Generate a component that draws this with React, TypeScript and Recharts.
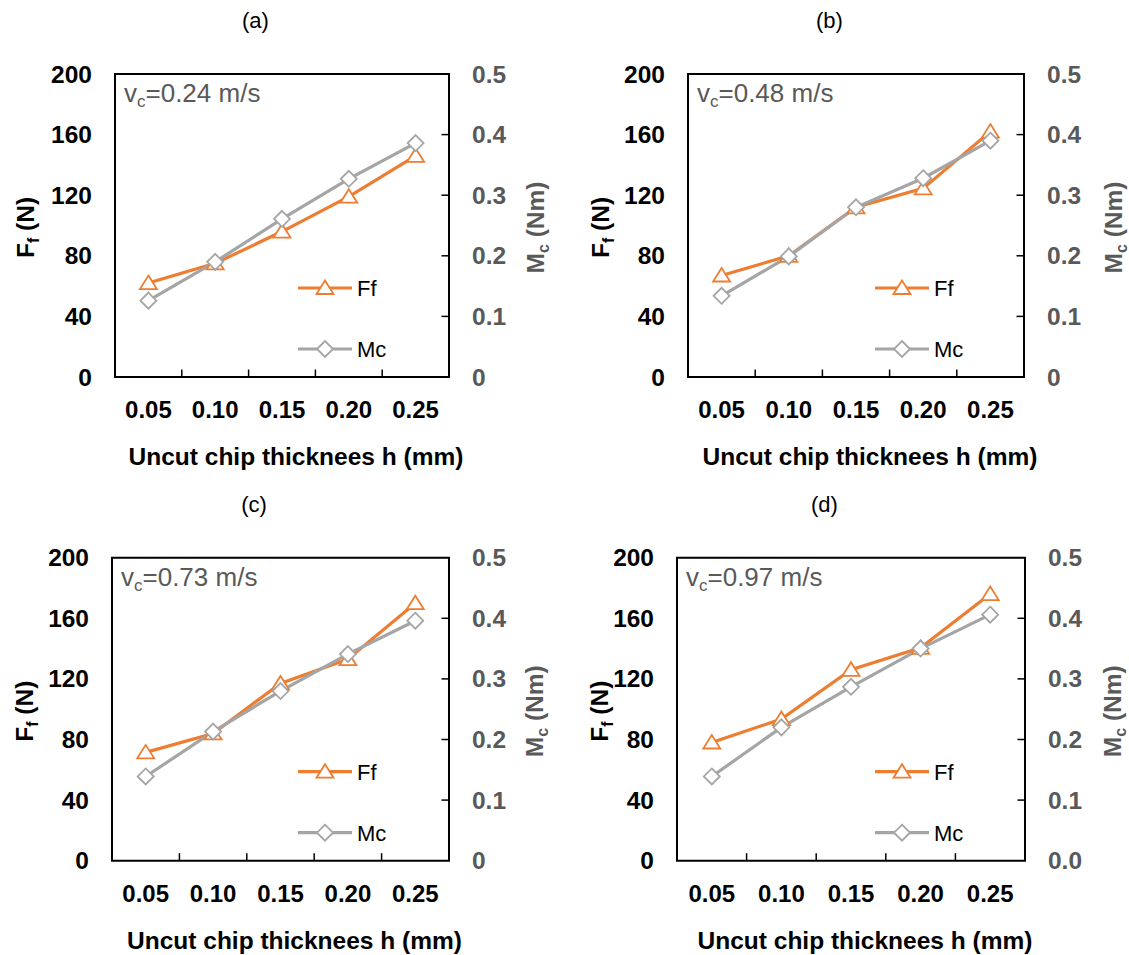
import React from 'react';
import { LineChart, Line, XAxis, YAxis, ReferenceArea, ReferenceLine } from 'recharts';

// uncut chip thickness categories (mm)
const thickness = ['0.05', '0.10', '0.15', '0.20', '0.25'];

// friction force Ff (N) and cutting moment Mc (Nm) per cutting speed
const ffA = [62, 75, 96, 119, 146];
const mcA = [0.126, 0.19, 0.261, 0.327, 0.386];
const ffB = [67, 80, 112, 124.5, 162];
const mcB = [0.134, 0.199, 0.28, 0.328, 0.39];
const ffC = [71.5, 84, 117, 133, 170];
const mcC = [0.139, 0.213, 0.28, 0.341, 0.396];
const ffD = [78, 93.5, 126, 140.5, 176];
const mcD = [0.139, 0.22, 0.287, 0.35, 0.406];

const ffTicks = [0, 40, 80, 120, 160, 200];
const mcTicks = [0, 0.1, 0.2, 0.3, 0.4, 0.5];
const boundaryTicks = [1.5, 2.5, 3.5, 4.5];
const innerTicks = [40, 80, 120, 160];

const FONT = '"Liberation Sans", Arial, sans-serif';
const ORANGE = '#ED7D31';
const GRAY = '#A5A5A5';
const DARK = '#595959';

const panels = [
  { name: '(a)', speed: '0.24', ff: ffA, mc: mcA, left: 0, top: 0, plotX: 115, plotY: 74, plotW: 334, yLabelX: 25, mLabelX: 535, legendX: 298, zero: '0' },
  { name: '(b)', speed: '0.48', ff: ffB, mc: mcB, left: 560, top: 0, plotX: 688, plotY: 74, plotW: 336, yLabelX: 600, mLabelX: 1113, legendX: 875, zero: '0' },
  { name: '(c)', speed: '0.73', ff: ffC, mc: mcC, left: 0, top: 480, plotX: 112, plotY: 557.7, plotW: 337, yLabelX: 25, mLabelX: 535, legendX: 298, zero: '0' },
  { name: '(d)', speed: '0.97', ff: ffD, mc: mcD, left: 560, top: 480, plotX: 677, plotY: 557.7, plotW: 348, yLabelX: 600, mLabelX: 1113, legendX: 875, zero: '0.0' },
];
const PLOT_H = 303;

const triangle = (cx: number, cy: number) =>
  `M${cx},${cy - 7.5} L${cx + 8.5},${cy + 6} L${cx - 8.5},${cy + 6} Z`;
const diamond = (cx: number, cy: number) =>
  `M${cx},${cy - 8} L${cx + 8},${cy} L${cx},${cy + 8} L${cx - 8},${cy} Z`;

const TriangleDot = (p: any) => (
  <path key={`t-${p.index}`} d={triangle(p.cx, p.cy)} fill="#fff" stroke={ORANGE} strokeWidth={1.8} />
);
const DiamondDot = (p: any) => (
  <path key={`d-${p.index}`} d={diamond(p.cx, p.cy)} fill="#fff" stroke={GRAY} strokeWidth={1.8} />
);

function Panel({ cfg }: { cfg: any }) {
  const relX = cfg.plotX - cfg.left;
  const relY = cfg.plotY - cfg.top;
  const bottom = relY + PLOT_H;
  const right = relX + cfg.plotW;
  const data = thickness.map((label, i) => ({ x: i + 1, label, ff: cfg.ff[i], mc: cfg.mc[i] }));
  const tickLenX = 7.5 / (cfg.plotW / 5);
  const tickLenY = (7.5 * 200) / PLOT_H;

  return (
    <div style={{ position: 'absolute', left: cfg.left, top: cfg.top }}>
      <LineChart width={right + 100} height={bottom + 100} data={data} margin={{ top: relY, right: 0, bottom: 0, left: 0 }}>
        <XAxis
          xAxisId="x"
          type="number"
          dataKey="x"
          domain={[0.5, 5.5]}
          ticks={[1, 2, 3, 4, 5]}
          interval={0}
          height={100}
          axisLine={false}
          tickLine={false}
          tick={(p: any) => (
            <text key={`xt-${p.index}`} x={p.x} y={bottom + 41} textAnchor="middle" fontFamily={FONT} fontSize={24} fontWeight="bold" fill="#000">
              {thickness[Math.round(p.payload.value) - 1]}
            </text>
          )}
        />
        <YAxis
          yAxisId="ff"
          domain={[0, 200]}
          ticks={ffTicks}
          interval={0}
          width={relX}
          axisLine={false}
          tickLine={false}
          tick={(p: any) => (
            <text key={`yl-${p.index}`} x={relX - 23} y={p.y + 8.5} textAnchor="end" fontFamily={FONT} fontSize={24.5} fontWeight="bold" fill="#000">
              {p.payload.value}
            </text>
          )}
        />
        <YAxis
          yAxisId="mc"
          orientation="right"
          domain={[0, 0.5]}
          ticks={mcTicks}
          interval={0}
          width={100}
          axisLine={false}
          tickLine={false}
          tick={(p: any) => (
            <text key={`yr-${p.index}`} x={right + 23} y={p.y + 8.5} textAnchor="start" fontFamily={FONT} fontSize={24.5} fontWeight="bold" fill={DARK}>
              {p.payload.value === 0 ? cfg.zero : Number(p.payload.value).toFixed(1)}
            </text>
          )}
        />
        <ReferenceArea xAxisId="x" yAxisId="ff" x1={0.5} x2={5.5} y1={0} y2={200} fill="none" stroke="#000" strokeWidth={2} ifOverflow="visible" />
        {boundaryTicks.map((b) => (
          <ReferenceLine key={`bt-${b}`} xAxisId="x" yAxisId="ff" segment={[{ x: b, y: 0 }, { x: b, y: tickLenY }]} stroke="#000" strokeWidth={1.5} ifOverflow="visible" />
        ))}
        {innerTicks.map((v) => (
          <ReferenceLine key={`rt-${v}`} xAxisId="x" yAxisId="ff" segment={[{ x: 5.5 - tickLenX, y: v }, { x: 5.5, y: v }]} stroke="#000" strokeWidth={1.5} ifOverflow="visible" />
        ))}
        <Line xAxisId="x" yAxisId="ff" dataKey="ff" stroke={ORANGE} strokeWidth={3.2} dot={TriangleDot} activeDot={false} isAnimationActive={false} />
        <Line xAxisId="x" yAxisId="mc" dataKey="mc" stroke={GRAY} strokeWidth={3.2} dot={DiamondDot} activeDot={false} isAnimationActive={false} />
      </LineChart>
    </div>
  );
}

function PanelText({ cfg }: { cfg: any }) {
  const cx = cfg.plotX + cfg.plotW / 2;
  const bottom = cfg.plotY + PLOT_H;
  const midY = cfg.plotY + PLOT_H / 2 + 2;
  const lx1 = cfg.legendX;
  const lx2 = cfg.legendX + 54;
  const lmid = (lx1 + lx2) / 2;
  const ly1 = cfg.plotY + 214;
  const ly2 = cfg.plotY + 275;
  return (
    <g fontFamily={FONT}>
      <text x={cx - 26.5} y={cfg.plotY - 46} textAnchor="middle" fontSize={22} fill="#000">{cfg.name}</text>
      <text x={cfg.plotX + 9} y={cfg.plotY + 28} fontSize={26} fill={DARK}>
        v<tspan fontSize={17} dy={5}>c</tspan><tspan dy={-5}>={cfg.speed} m/s</tspan>
      </text>
      <text x={cx + 14} y={bottom + 88} textAnchor="middle" fontSize={24.5} fontWeight="bold" fill="#000">
        Uncut chip thicknees h (mm)
      </text>
      <text x={cfg.yLabelX + 8.5} y={midY} transform={`rotate(-90 ${cfg.yLabelX + 8.5} ${midY})`} textAnchor="middle" fontSize={24.5} fontWeight="bold" fill="#000">
        F<tspan fontSize={16} dy={5}>f</tspan><tspan dy={-5}> (N)</tspan>
      </text>
      <text x={cfg.mLabelX + 8.5} y={midY} transform={`rotate(-90 ${cfg.mLabelX + 8.5} ${midY})`} textAnchor="middle" fontSize={24.5} fontWeight="bold" fill={DARK}>
        M<tspan fontSize={16} dy={5}>c</tspan><tspan dy={-5}> (Nm)</tspan>
      </text>
      <line x1={lx1} x2={lx2} y1={ly1} y2={ly1} stroke={ORANGE} strokeWidth={3.2} />
      <path d={triangle(lmid, ly1)} fill="#fff" stroke={ORANGE} strokeWidth={1.8} />
      <text x={lx2 + 5} y={ly1 + 8} fontSize={22} fill="#000">Ff</text>
      <line x1={lx1} x2={lx2} y1={ly2} y2={ly2} stroke={GRAY} strokeWidth={3.2} />
      <path d={diamond(lmid, ly2)} fill="#fff" stroke={GRAY} strokeWidth={1.8} />
      <text x={lx2 + 5} y={ly2 + 8} fontSize={22} fill="#000">Mc</text>
    </g>
  );
}

export default function App() {
  return (
    <div style={{ position: 'absolute', left: 0, top: 0, width: 1129, height: 955, background: '#fff', overflow: 'hidden' }}>
      {panels.map((p) => (
        <Panel key={p.name} cfg={p} />
      ))}
      <svg width={1129} height={955} style={{ position: 'absolute', left: 0, top: 0, pointerEvents: 'none' }}>
        {panels.map((p) => (
          <PanelText key={p.name} cfg={p} />
        ))}
      </svg>
    </div>
  );
}
